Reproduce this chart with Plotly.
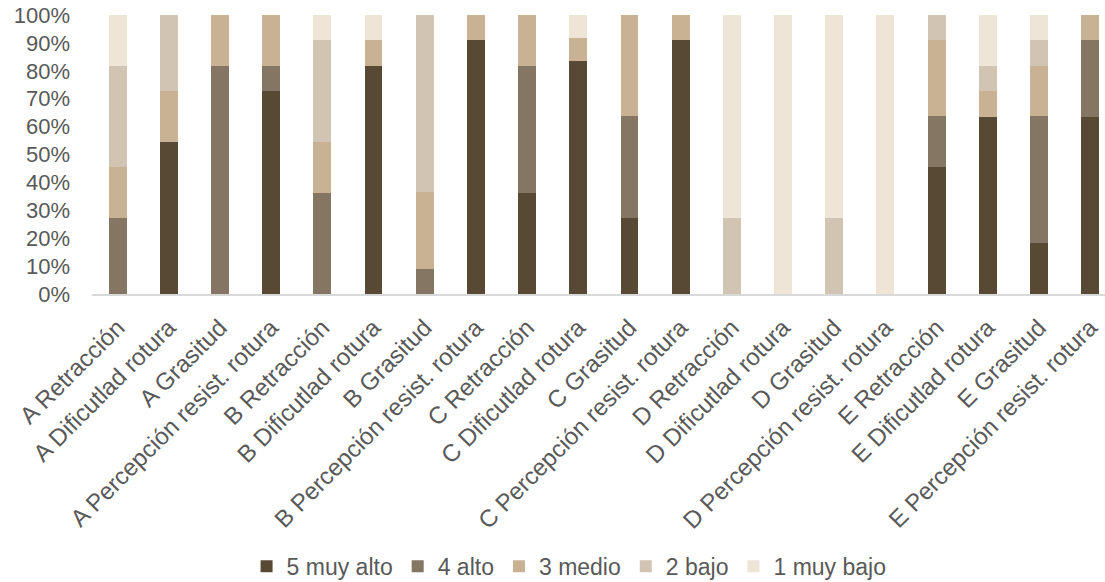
import plotly.graph_objects as go

categories = [
    "A Retracción", "A Dificutlad rotura", "A Grasitud", "A Percepción resist. rotura",
    "B Retracción", "B Dificutlad rotura", "B Grasitud", "B Percepción resist. rotura",
    "C Retracción", "C Dificutlad rotura", "C Grasitud", "C Percepción resist. rotura",
    "D Retracción", "D Dificutlad rotura", "D Grasitud", "D Percepción resist. rotura",
    "E Retracción", "E Dificutlad rotura", "E Grasitud", "E Percepción resist. rotura",
]

muy_alto_5 = [0, 54.5, 0, 72.7, 0, 81.8, 0, 90.9, 36.4, 83.3, 27.3, 90.9, 0, 0, 0, 0, 45.5, 63.6, 18.2, 63.6]
alto_4 = [27.3, 0, 81.8, 9.1, 36.4, 0, 9.1, 0, 45.5, 0, 36.4, 0, 0, 0, 0, 0, 18.2, 0, 45.5, 27.3]
medio_3 = [18.2, 18.2, 18.2, 18.2, 18.2, 9.1, 27.3, 9.1, 18.2, 8.3, 36.4, 9.1, 0, 0, 0, 0, 27.3, 9.1, 18.2, 9.1]
bajo_2 = [36.4, 27.3, 0, 0, 36.4, 0, 63.6, 0, 0, 0, 0, 0, 27.3, 0, 27.3, 0, 9.1, 9.1, 9.1, 0]
muy_bajo_1 = [18.2, 0, 0, 0, 9.1, 9.1, 0, 0, 0, 8.3, 0, 0, 72.7, 100, 72.7, 100, 0, 18.2, 9.1, 0]

series = [
    ("5 muy alto", muy_alto_5, "#584935"),
    ("4 alto", alto_4, "#857563"),
    ("3 medio", medio_3, "#C9B193"),
    ("2 bajo", bajo_2, "#D2C4B2"),
    ("1 muy bajo", muy_bajo_1, "#EEE5D7"),
]

fig = go.Figure()
for name, vals, color in series:
    fig.add_trace(go.Bar(
        x=categories, y=vals, name=name,
        marker=dict(color=color, line=dict(width=0)),
    ))

font_color = "#595959"
fig.update_layout(
    barmode="stack",
    barnorm="percent",
    bargap=0.65,
    width=1105, height=582,
    margin=dict(l=92, r=0, t=15, b=288),
    plot_bgcolor="white",
    paper_bgcolor="white",
    font=dict(family="Liberation Sans, Arial, sans-serif", size=22, color=font_color),
    showlegend=True,
    legend=dict(
        orientation="h",
        xref="container", yref="container",
        x=0.515, xanchor="center",
        y=0.027, yanchor="middle",
        font=dict(size=23, color=font_color),
        traceorder="normal",
    ),
    xaxis=dict(
        range=[-0.5, 19.29],
        tickangle=-45,
        showgrid=False,
        showline=True, linecolor="#D9D9D9", linewidth=2,
        ticks="",
        ticklabelstandoff=8,
        tickfont=dict(size=24, color=font_color),
    ),
    yaxis=dict(
        range=[0, 100],
        tickvals=[0, 10, 20, 30, 40, 50, 60, 70, 80, 90, 100],
        ticktext=["0%", "10%", "20%", "30%", "40%", "50%", "60%", "70%", "80%", "90%", "100%"],
        showgrid=False,
        zeroline=False,
        showline=False,
        ticks="",
        ticklabelstandoff=21,
        tickfont=dict(size=22, color=font_color),
    ),
)

fig.write_html("out.html")
